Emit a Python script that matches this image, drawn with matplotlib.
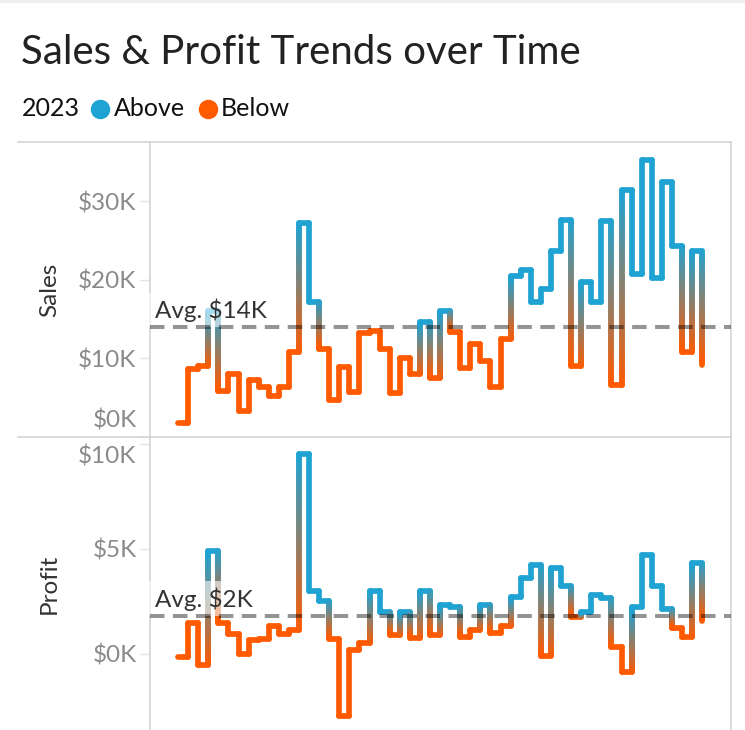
import numpy as np
import matplotlib
matplotlib.use('Agg')
import matplotlib.pyplot as plt
from matplotlib.collections import LineCollection
from matplotlib.colors import to_rgb
from matplotlib.lines import Line2D
from matplotlib.ticker import FuncFormatter

plt.rcParams['font.family'] = ['Lato', 'DejaVu Sans']

# weekly values for 2023, in $K
weeks = np.arange(1, 54)
sales = np.array([1.8, 8.7, 9.1, 16.0, 5.8, 8.0, 3.3, 7.3, 6.4, 5.2,
                  6.4, 10.8, 27.2, 17.2, 11.2, 4.7, 8.9, 5.7, 13.3, 13.5,
                  11.2, 5.6, 10.0, 8.0, 14.6, 7.5, 16.1, 13.4, 8.8, 11.9,
                  9.7, 6.4, 12.5, 20.5, 21.3, 17.2, 18.8, 23.7, 27.6, 9.0,
                  19.7, 17.2, 27.5, 6.6, 31.4, 20.8, 35.3, 20.3, 32.4, 24.3,
                  10.8, 23.7, 9.2])
profit = np.array([-0.15, 1.45, -0.55, 4.9, 1.45, 0.95, 0.0, 0.63, 0.7, 1.3,
                   0.95, 1.1, 9.5, 3.0, 2.5, 0.67, -3.0, 0.19, 0.5, 3.0,
                   2.0, 0.9, 2.0, 0.75, 3.0, 0.9, 2.3, 2.2, 0.8, 1.14,
                   2.33, 1.0, 1.33, 2.7, 3.6, 4.2, -0.13, 4.1, 3.2, 1.72,
                   2.0, 2.8, 2.65, 0.3, -0.87, 2.2, 4.7, 3.2, 2.1, 1.2,
                   0.8, 4.3, 1.54])

sales_ticks = [0, 10, 20, 30]
profit_ticks = [0, 5, 10]

BLUE = '#1FA3D3'
ORANGE = '#FF5A00'
TICK_GRAY = '#8a8a8a'
BORDER = '#d4d4d4'

W, H = 745, 730
fig = plt.figure(figsize=(W / 100, H / 100), dpi=100)


def fx(px):
    return px / W


def fy(py):
    return 1 - py / H


def step_gradient(ax, x, y, avg):
    above = y >= avg
    cols = [np.array(to_rgb(BLUE if a else ORANGE)) for a in above]
    segs, colors = [], []
    for i in range(len(x) - 1):
        segs.append([(x[i], y[i]), (x[i + 1], y[i])])
        colors.append(cols[i])
        n = 60 if above[i] != above[i + 1] else 1
        ys = np.linspace(y[i], y[i + 1], n + 1)
        for k in range(n):
            t = (k + 0.5) / n
            segs.append([(x[i + 1], ys[k]), (x[i + 1], ys[k + 1])])
            colors.append(cols[i] * (1 - t) + cols[i + 1] * t)
    lc = LineCollection(segs, colors=colors, linewidths=4.1,
                        capstyle='round', joinstyle='round', zorder=2)
    ax.add_collection(lc)


def setup(ax, vals, ticks, ylim, name, label_shift):
    avg = vals.mean()
    step_gradient(ax, weeks, vals, avg)
    ax.set_xlim(weeks[0] - 2.78, weeks[0] + 54.86)
    ax.set_ylim(*ylim)
    ax.set_yticks(ticks)
    ax.yaxis.set_major_formatter(FuncFormatter(lambda v, p: f'${v:.0f}K'))
    ax.tick_params(axis='y', length=7.2, width=1, color='#e4e4e4',
                   labelcolor=TICK_GRAY, labelsize=17.5, pad=2.5)
    ax.set_xticks([])
    for s in ['top', 'bottom']:
        ax.spines[s].set_visible(False)
    for s in ['left', 'right']:
        ax.spines[s].set_color(BORDER)
        ax.spines[s].set_linewidth(1.2)
    # shift edge labels inside the pane like Tableau does
    for lab, sh in zip(ax.get_yticklabels(), label_shift):
        if sh:
            lab.set_transform(lab.get_transform() +
                              matplotlib.transforms.ScaledTranslation(0, sh / 100, fig.dpi_scale_trans))
    ax.set_ylabel(name, fontsize=17.5, color='#333333', labelpad=13)
    ax.axhline(avg, color='black', alpha=0.42, lw=2.9, dashes=(3.6, 2.1), zorder=4)
    ax.annotate(f'Avg. ${avg:.0f}K', xy=(0, avg), xycoords=('axes fraction', 'data'),
                xytext=(5, 5), textcoords='offset pixels', fontsize=17.5, color='#333333',
                ha='left', va='bottom', zorder=3,
                bbox=dict(facecolor='white', alpha=0.6, edgecolor='none', pad=4))


ax1 = fig.add_axes([fx(150), fy(437), fx(731) - fx(150), fy(142) - fy(437)])
setup(ax1, sales, sales_ticks, (0.28, 37.55), 'Sales', [18, 0, 0, 0])

ax2 = fig.add_axes([fx(150), 0, fx(731) - fx(150), fy(437)])
setup(ax2, profit, profit_ticks, (-3.65, 10.33), 'Profit', [0, 0, -11])

fig.align_ylabels([ax1, ax2])

# pane borders
for py in [142, 437]:
    fig.add_artist(Line2D([fx(18), fx(731)], [fy(py), fy(py)], color=BORDER, lw=1.2,
                          transform=fig.transFigure))
fig.add_artist(Line2D([0, 1], [fy(1), fy(1)], color='#eeeeee', lw=2, transform=fig.transFigure))

# title and legend
fig.text(fx(21), fy(52), 'Sales & Profit Trends over Time', fontsize=29, color='#222222',
         ha='left', va='center')
fig.text(fx(22), fy(109), '2023', fontsize=18, color='#111111', ha='left', va='center')
fig.add_artist(Line2D([fx(100)], [fy(109)], marker='o', markersize=13, color=BLUE,
                      transform=fig.transFigure))
fig.text(fx(114), fy(109), 'Above', fontsize=18, color='#111111', ha='left', va='center')
fig.add_artist(Line2D([fx(208)], [fy(109)], marker='o', markersize=13, color=ORANGE,
                      transform=fig.transFigure))
fig.text(fx(221), fy(109), 'Below', fontsize=18, color='#111111', ha='left', va='center')

fig.savefig('out.png', dpi=100)
